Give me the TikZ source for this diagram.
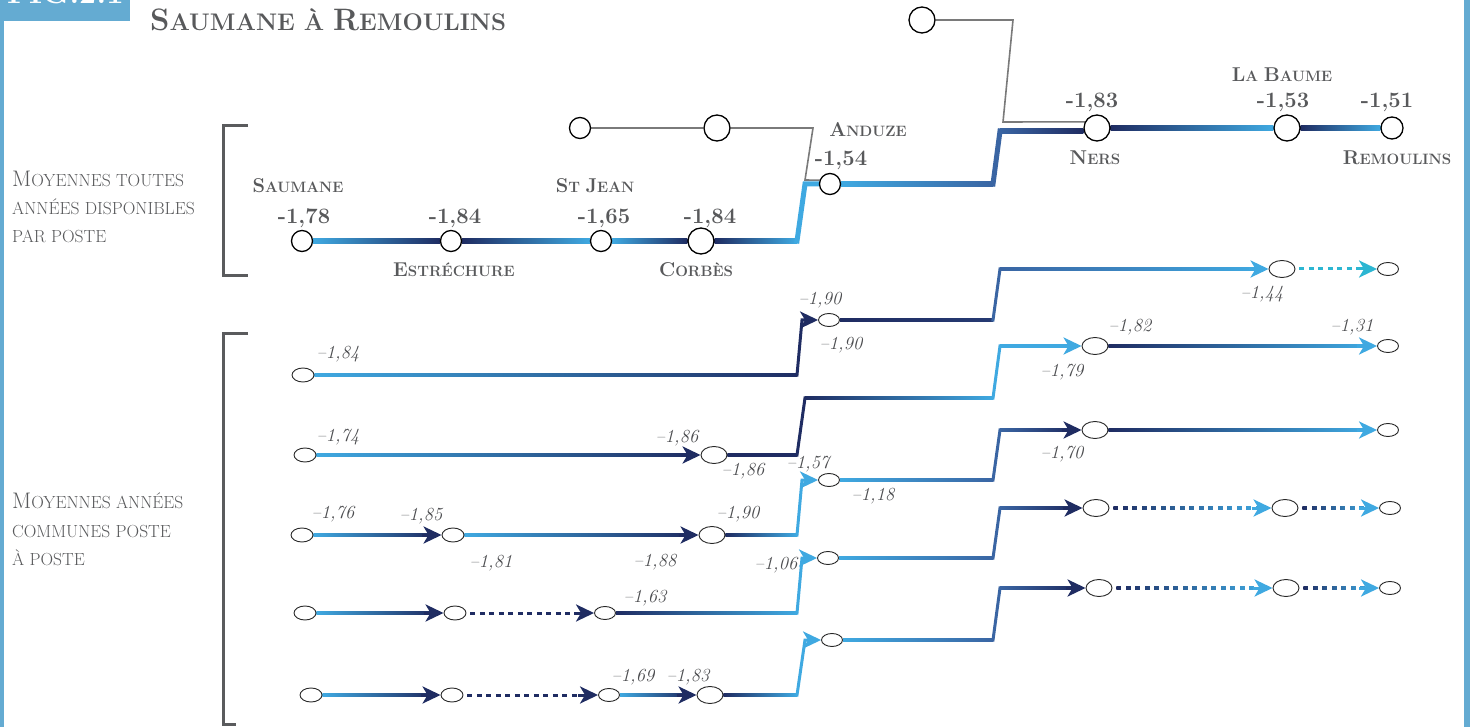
\documentclass[tikz,border=0pt]{standalone}
\usepackage{fontspec}
\usetikzlibrary{shapes.geometric,arrows.meta,calc}
\definecolor{lb}{HTML}{3FA9E1}
\definecolor{dk}{HTML}{1F2C62}
\definecolor{md}{HTML}{3A65A3}
\definecolor{cy}{HTML}{2CB6D2}
\definecolor{tg}{HTML}{58595B}
\definecolor{tgi}{HTML}{4C4D50}
\definecolor{fb}{HTML}{64ABD2}
\definecolor{cTrib}{HTML}{7A7A7A}
\definecolor{cBrk}{HTML}{5A5B5D}
\pgfdeclarelayer{bg}\pgfsetlayers{bg,main}
\newcommand\mystn[2]{{\bfseries\fontsize{20}{20}\selectfont #1}{\bfseries\fontsize{15}{15}\selectfont #2}}
\newcommand\myttl[2]{{\bfseries\fontsize{31}{31}\selectfont #1}{\bfseries\fontsize{24}{24}\selectfont #2}}
\newcommand\mybn[1]{{\bfseries\fontsize{22}{22}\selectfont #1}}
\newcommand\myin[1]{{\color{tgi}\itshape\fontsize{18.5}{18.5}\selectfont \textendash#1}}
\newcommand\mydsc[2]{{\fontsize{22.5}{22.5}\selectfont #1}{\fontsize{17.5}{17.5}\selectfont #2}}
\newcommand\mydscs[1]{{\fontsize{17.5}{17.5}\selectfont #1}}
% gradient bar between two points
\newcommand\mygb[5]{\shade[left color=#3,right color=#4] ($(#1)+(0,#5)$) rectangle ($(#2)-(0,#5)$);}
% gradient bar ending under the arrow into node #2
\newcommand\mygA[5]{\shade[left color=#3,right color=#4] ($(#1)+(0,#5)$) rectangle ($(#2.west)+(-9,-#5)$);}
\newcommand\myarr[2]{\draw[#2, line width=3pt, arrowtip] ($(#1.west)-(20,0)$) -- (#1.west);}
\newcommand\mydot[2]{\shade[left color=dk,right color=lb] ($(#1.east)+(4,1.5)$) rectangle ($(#2.west)+(-9,-1.5)$);
  \draw[white, line width=5pt, dash pattern=on 4.5pt off 5pt, dash phase=4.5pt] ($(#1.east)+(4,0)$) -- ($(#2.west)-(9,0)$);}
\tikzset{
  cir/.style={circle, draw=black, fill=white, line width=1.3pt, minimum size=21pt, inner sep=0pt},
  cirb/.style={cir, minimum size=26pt},
  el/.style={ellipse, draw=black!85, fill=white, line width=0.9pt, minimum width=22pt, minimum height=14pt, inner sep=0pt},
  elb/.style={el, minimum width=26pt, minimum height=17pt},
  els/.style={el, minimum width=21pt, minimum height=13pt},
  txt/.style={text=tg, inner sep=0pt, anchor=base},
  tribline/.style={draw=cTrib, line width=1.6pt},
  lw/.style={line width=3pt},
  arrowtip/.style={-{Stealth[length=18pt,width=17pt,inset=5pt]}},
  dotline/.style={line width=3pt, dash pattern=on 5pt off 4.5pt},
}
\begin{document}
\begin{tikzpicture}[x=1pt,y=-1pt]
\useasboundingbox (0,0) rectangle (1470,727);
\begin{pgfonlayer}{bg}
\fill[white] (0,0) rectangle (1470,727);
\end{pgfonlayer}
% frame
\fill[fb] (0,0) rectangle (130,21);
\fill[fb] (0,21) rectangle (4,727);
\fill[fb] (1464,0) rectangle (1470,727);
\node[anchor=base west, inner sep=0pt, text=white] (fig) at (7,4) {\bfseries\fontsize{31}{31}\selectfont FIG.2.1};
% title
\node[txt, anchor=base west] (title) at (150,31) {\myttl{S}{AUMANE À }\myttl{R}{EMOULINS}};
% descriptions
\node[txt, anchor=base west] (da) at (12,187) {\mydsc{M}{OYENNES TOUTES}};
\node[txt, anchor=base west] (db) at (12,215) {\mydscs{ANNÉES DISPONIBLES}};
\node[txt, anchor=base west] (dcc) at (12,243) {\mydscs{PAR POSTE}};
\node[txt, anchor=base west] (dd) at (12,508) {\mydsc{M}{OYENNES ANNÉES}};
\node[txt, anchor=base west] (de) at (12,537) {\mydscs{COMMUNES POSTE}};
\node[txt, anchor=base west] (df) at (12,565) {\mydscs{À POSTE}};
% brackets
\draw[cBrk, line width=3pt] (248,126) -- (223,126) -- (223,276) -- (248,276);
\draw[cBrk, line width=3pt] (248,334) -- (223,334) -- (223,724) -- (236,724);

% ---------- top stations ----------
\node[cir] (sau) at (302,241) {};
\node[cir] (est) at (451,241) {};
\node[cir] (sjn) at (601,241) {};
\node[cirb] (cor) at (701,241) {};
\node[cir] (and) at (830,184) {};
\node[cirb] (ner) at (1097,128) {};
\node[cirb] (lab) at (1287,128) {};
\node[cir, minimum size=22pt] (rem) at (1392,128) {};
\node[cir] (ta) at (580,128) {};
\node[cirb] (tb) at (717,128) {};
\node[cirb] (tc) at (922,20) {};
\coordinate (m1) at (797,241);
\coordinate (m2) at (805,184);
\coordinate (m3) at (993,184);
\coordinate (m4) at (1000,131);
\coordinate (m5) at (ner.west|-m4);
\coordinate (g1) at (813,128);
\coordinate (g2) at (805,180);
\coordinate (g3) at (1013,20);
\coordinate (g4) at (1003,122);

\node[txt] (nsau) at (298,193) {\mystn{S}{AUMANE}};
\node[txt] (vsau) at (304,224) {\mybn{-1,78}};
\node[txt] (vest) at (455,224) {\mybn{-1,84}};
\node[txt] (nest) at (454,277) {\mystn{E}{STRÉCHURE}};
\node[txt] (nsjn) at (595,193) {\mystn{S}{T }\mystn{J}{EAN}};
\node[txt] (vsjn) at (604,224) {\mybn{-1,65}};
\node[txt] (vcor) at (710,224) {\mybn{-1,84}};
\node[txt] (ncor) at (696,277) {\mystn{C}{ORBÈS}};
\node[txt] (nand) at (868,137) {\mystn{A}{NDUZE}};
\node[txt] (vand) at (841,166) {\mybn{-1,54}};
\node[txt] (vner) at (1092,108) {\mybn{-1,83}};
\node[txt] (nner) at (1095,165) {\mystn{N}{ERS}};
\node[txt] (nlab) at (1282,82) {\mystn{L}{A }\mystn{B}{AUME}};
\node[txt] (vlab) at (1283,108) {\mybn{-1,53}};
\node[txt] (vrem) at (1387,108) {\mybn{-1,51}};
\node[txt] (nrem) at (1397,165) {\mystn{R}{EMOULINS}};

% ---------- lower rows ----------
\node[el] (a1) at (303,375) {};
\node[els] (a2) at (829,320) {};
\node[elb] (a3) at (1282,269) {};
\node[els] (a4) at (1388,269) {};
\coordinate (ac1) at (797,375); \coordinate (ac2) at (802,320);
\coordinate (ac3) at (993,320); \coordinate (ac4) at (1000,269);

\node[el] (b1) at (305,455) {};
\node[elb] (b2) at (714,455) {};
\node[elb] (b3) at (1095,346) {};
\node[els] (b4) at (1388,346) {};
\coordinate (bc1) at (797,455); \coordinate (bc2) at (805,398);
\coordinate (bc3) at (993,398); \coordinate (bc4) at (1000,346);

\node[el] (c1) at (302,535) {};
\node[el] (c2) at (453,535) {};
\node[elb] (c3) at (712,535) {};
\node[els] (c4) at (829,480) {};
\node[elb] (c5) at (1095,430) {};
\node[els] (c6) at (1388,430) {};
\coordinate (cc1) at (797,535); \coordinate (cc2) at (802,480);
\coordinate (cc3) at (993,480); \coordinate (cc4) at (1000,430);

\node[el] (d1) at (305,613) {};
\node[el] (d2) at (455,613) {};
\node[els] (d3) at (605,613) {};
\node[els] (d4) at (828,558) {};
\node[elb] (d5) at (1096,508) {};
\node[elb] (d6) at (1285,508) {};
\node[els] (d7) at (1390,508) {};
\coordinate (dc1) at (797,613); \coordinate (dc2) at (802,558);
\coordinate (dc3) at (993,558); \coordinate (dc4) at (1000,508);

\node[el] (e1) at (311,695) {};
\node[el] (e2) at (452,695) {};
\node[els] (e3) at (609,695) {};
\node[elb] (e4) at (710,695) {};
\node[els] (e5) at (832,640) {};
\node[elb] (e6) at (1099,588) {};
\node[elb] (e7) at (1286,588) {};
\node[els] (e8) at (1390,588) {};
\coordinate (ec1) at (797,695); \coordinate (ec2) at (805,640);
\coordinate (ec3) at (993,640); \coordinate (ec4) at (1000,588);

% italic values
\node[txt] (la1) at (338,359) {\myin{1,84}};
\node[txt] (la2) at (820,305) {\myin{1,90}};
\node[txt] (la3) at (841,349) {\myin{1,90}};
\node[txt] (la4) at (1262,299) {\myin{1,44}};
\node[txt] (lb1) at (338,441) {\myin{1,74}};
\node[txt] (lb2) at (677,442) {\myin{1,86}};
\node[txt] (lb3) at (743,475) {\myin{1,86}};
\node[txt] (lb4) at (1062,376) {\myin{1,79}};
\node[txt] (lb5) at (1130,331) {\myin{1,82}};
\node[txt] (lb6) at (1352,331) {\myin{1,31}};
\node[txt] (lc1) at (333,518) {\myin{1,76}};
\node[txt] (lc2) at (421,520) {\myin{1,85}};
\node[txt] (lc3) at (491,567) {\myin{1,81}};
\node[txt] (lc4) at (738,518) {\myin{1,90}};
\node[txt] (lc5) at (655,566) {\myin{1,88}};
\node[txt] (lc6) at (808,468) {\myin{1,57}};
\node[txt] (lc7) at (873,500) {\myin{1,18}};
\node[txt] (lc8) at (1062,458) {\myin{1,70}};
\node[txt] (ld1) at (645,602) {\myin{1,63}};
\node[txt] (ld2) at (776,569) {\myin{1,06}};
\node[txt] (le1) at (633,681) {\myin{1,69}};
\node[txt] (le2) at (688,681) {\myin{1,83}};

\begin{pgfonlayer}{bg}
% tributaries
\draw[tribline] (ta.east) -- (tb.west);
\draw[tribline] (tb.east) -- (g1) -- (g2) -- (and.160);
\draw[tribline] (tc.east) -- (g3) -- (g4) -- (ner.153);
% main thick line
\mygb{sau.east}{est.west}{lb}{dk}{2.5}
\mygb{est.east}{sjn.west}{dk}{lb}{2.5}
\mygb{sjn.east}{cor.west}{lb}{dk}{2.5}
\mygb{cor.east}{m1}{dk}{lb}{2.5}
\draw[lb, line width=5pt, line cap=rect] (m1) -- (m2) -- (and.west);
\mygb{and.east}{m3}{lb}{md}{2.5}
\draw[md, line width=5pt, line cap=rect] (m3) -- (m4);
\mygb{m4}{m5}{md}{dk}{2.5}
\mygb{ner.east}{lab.west}{dk}{lb}{2.5}
\mygb{lab.east}{rem.west}{dk}{lb}{2.5}

% row A
\mygb{a1.east}{ac1}{lb}{dk}{1.5}
\draw[dk, lw, line cap=rect, arrowtip] (ac1) -- (ac2) -- (a2.west);
\mygb{a2.east}{ac3}{dk}{dk!75!md}{1.5}
\draw[md, lw, line cap=rect] (ac3) -- (ac4);
\mygA{ac4}{a3}{md}{lb}{1.5}
\myarr{a3}{lb}
\draw[cy, dotline] ($(a3.east)+(4,0)$) -- ($(a4.west)-(14,0)$);
\myarr{a4}{cy}

% row B
\mygA{b1.east}{b2}{lb}{dk}{1.5}
\myarr{b2}{dk}
\mygb{b2.east}{bc1}{dk}{dk}{1.5}
\draw[dk, lw, line cap=rect] (bc1) -- (bc2);
\mygb{bc2}{bc3}{dk}{lb}{1.5}
\draw[lb, lw, line cap=rect] (bc3) -- (bc4);
\mygA{bc4}{b3}{lb}{lb}{1.5}
\myarr{b3}{lb}
\mygA{b3.east}{b4}{dk}{lb}{1.5}
\myarr{b4}{lb}

% row C
\mygA{c1.east}{c2}{lb}{dk}{1.5}
\myarr{c2}{dk}
\mygA{c2.east}{c3}{lb}{dk}{1.5}
\myarr{c3}{dk}
\mygb{c3.east}{cc1}{dk}{lb}{1.5}
\draw[lb, lw, line cap=rect, arrowtip] (cc1) -- (cc2) -- (c4.west);
\mygb{c4.east}{cc3}{lb}{md}{1.5}
\draw[md, lw, line cap=rect] (cc3) -- (cc4);
\mygA{cc4}{c5}{md}{dk}{1.5}
\myarr{c5}{dk}
\mygA{c5.east}{c6}{dk}{lb}{1.5}
\myarr{c6}{lb}

% row D
\mygA{d1.east}{d2}{lb}{dk}{1.5}
\myarr{d2}{dk}
\draw[dk, dotline] ($(d2.east)+(4,0)$) -- ($(d3.west)-(14,0)$);
\myarr{d3}{dk}
\mygb{d3.east}{dc1}{dk}{lb}{1.5}
\draw[lb, lw, line cap=rect, arrowtip] (dc1) -- (dc2) -- (d4.west);
\mygb{d4.east}{dc3}{lb}{md}{1.5}
\draw[md, lw, line cap=rect] (dc3) -- (dc4);
\mygA{dc4}{d5}{md}{dk}{1.5}
\myarr{d5}{dk}
\mydot{d5}{d6}
\myarr{d6}{lb}
\mydot{d6}{d7}
\myarr{d7}{lb}

% row E
\mygA{e1.east}{e2}{lb}{dk}{1.5}
\myarr{e2}{dk}
\draw[dk, dotline] ($(e2.east)+(4,0)$) -- ($(e3.west)-(14,0)$);
\myarr{e3}{dk}
\mygA{e3.east}{e4}{lb}{dk}{1.5}
\myarr{e4}{dk}
\mygb{e4.east}{ec1}{dk}{lb}{1.5}
\draw[lb, lw, line cap=rect, arrowtip] (ec1) -- (ec2) -- (e5.west);
\mygb{e5.east}{ec3}{lb}{md}{1.5}
\draw[md, lw, line cap=rect] (ec3) -- (ec4);
\mygA{ec4}{e6}{md}{dk}{1.5}
\myarr{e6}{dk}
\mydot{e6}{e7}
\myarr{e7}{lb}
\mydot{e7}{e8}
\myarr{e8}{lb}
\end{pgfonlayer}
\end{tikzpicture}
\end{document}
